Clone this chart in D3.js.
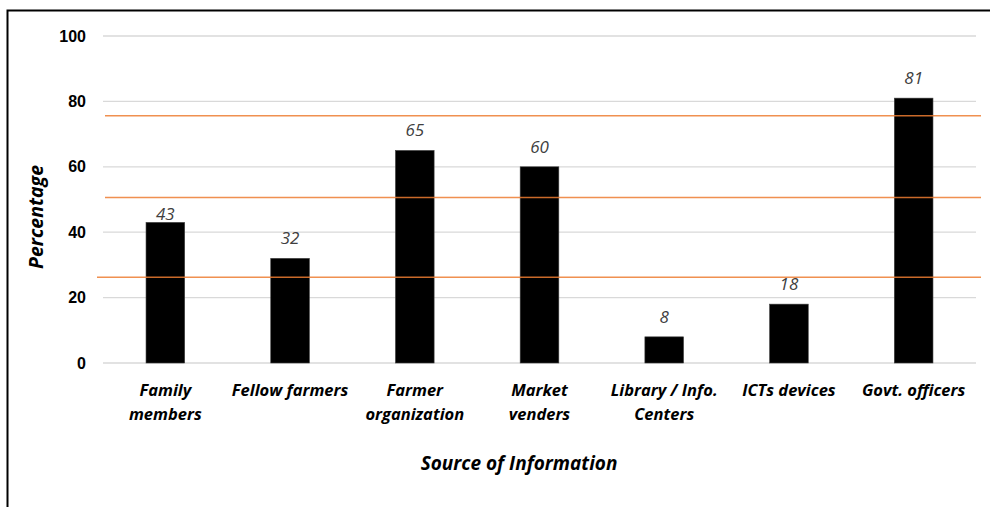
<!DOCTYPE html>
<html>
<head>
<meta charset="utf-8">
<script src="https://cdn.jsdelivr.net/npm/d3@7"></script>
<style>
  body { margin: 0; background: #fff; }
  svg { font-family: "Open Sans", Lato, sans-serif; }
</style>
</head>
<body>
<svg id="chart"></svg>
<script>
// data
const categories = [
    ['Family', 'members'],
    ['Fellow farmers'],
    ['Farmer', 'organization'],
    ['Market', 'venders'],
    ['Library / Info.', 'Centers'],
    ['ICTs devices'],
    ['Govt. officers']
];
const values = [43, 32, 65, 60, 8, 18, 81];
const yTicks = [0, 20, 40, 60, 80, 100];
// the stray orange lines drawn across the plot, in data units
const orangeLines = [75.6, 50.6, 26.2];

const width = 990;
const height = 507;
const svg = d3.select('#chart').attr('width', width).attr('height', height);

// outer frame
svg.append('rect')
    .attr('x', 7.5).attr('y', 10.5)
    .attr('width', 1000).attr('height', 520)
    .attr('fill', 'none').attr('stroke', '#000').attr('stroke-width', 2);

const x = d3.scaleBand()
    .domain(d3.range(categories.length))
    .range([103, 976])
    .paddingInner(0.69)
    .paddingOuter(0.345);

const y = d3.scaleLinear()
    .domain([0, 100])
    .range([363, 36]);

// gridlines
svg.append('g')
    .selectAll('line')
    .data(yTicks)
    .enter()
    .append('line')
    .attr('x1', 103).attr('x2', 976)
    .attr('y1', d => y(d)).attr('y2', d => y(d))
    .attr('stroke', '#d9d9d9')
    .attr('stroke-width', 1.3);

// y tick labels
const yAxis = svg.append('g')
    .attr('transform', 'translate(92,0)')
    .call(d3.axisLeft(y).tickValues(yTicks).tickSize(0).tickPadding(6));
yAxis.select('.domain').remove();
yAxis.selectAll('text')
    .attr('font-family', null)
    .attr('font-size', 16)
    .attr('font-weight', 'bold')
    .attr('fill', '#000');

// bars
svg.selectAll('.bar')
    .data(values)
    .enter()
    .append('rect')
    .attr('class', 'bar')
    .attr('x', (d, i) => x(i))
    .attr('y', d => y(d))
    .attr('width', x.bandwidth())
    .attr('height', d => y(0) - y(d))
    .attr('fill', '#000')
    .attr('stroke', '#404040')
    .attr('stroke-width', 0.6);

// value labels (the 43 sits closer to its bar in the original)
svg.selectAll('.val')
    .data(values)
    .enter()
    .append('text')
    .attr('class', 'val')
    .attr('x', (d, i) => x(i) + x.bandwidth() / 2)
    .attr('y', (d, i) => y(d) - (i === 0 ? 2 : 14))
    .attr('text-anchor', 'middle')
    .attr('font-size', 17)
    .attr('font-style', 'italic')
    .attr('fill', '#404040')
    .text(d => d);

// orange lines
svg.append('g')
    .selectAll('line')
    .data(orangeLines)
    .enter()
    .append('line')
    .attr('x1', (d, i) => i === 2 ? 97 : 105)
    .attr('x2', 981)
    .attr('y1', d => y(d)).attr('y2', d => y(d))
    .attr('stroke', '#ed7d31')
    .attr('stroke-opacity', 0.85)
    .attr('stroke-width', 1.5);

// category labels
const cat = svg.selectAll('.cat')
    .data(categories)
    .enter()
    .append('text')
    .attr('class', 'cat')
    .attr('text-anchor', 'middle')
    .attr('font-size', 16.5)
    .attr('font-weight', 'bold')
    .attr('font-style', 'italic')
    .attr('fill', '#000');
cat.selectAll('tspan')
    .data((d, i) => d.map(t => ({ t, i })))
    .enter()
    .append('tspan')
    .attr('x', d => x(d.i) + x.bandwidth() / 2)
    .attr('y', (d, j) => 396 + j * 24)
    .text(d => d.t);

// axis titles
svg.append('text')
    .attr('x', 519).attr('y', 470)
    .attr('text-anchor', 'middle')
    .attr('font-size', 19)
    .attr('font-weight', 'bold')
    .attr('font-style', 'italic')
    .text('Source of Information');

svg.append('text')
    .attr('transform', 'translate(43,217) rotate(-90)')
    .attr('text-anchor', 'middle')
    .attr('font-size', 19.5)
    .attr('font-weight', 'bold')
    .attr('font-style', 'italic')
    .text('Percentage');
</script>
</body>
</html>
